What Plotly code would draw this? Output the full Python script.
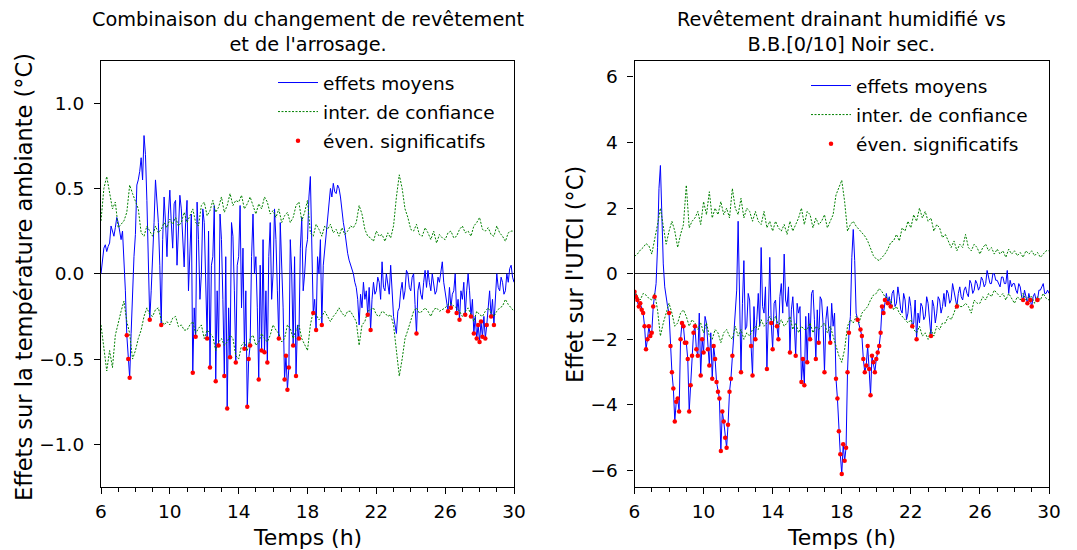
import plotly.graph_objects as go

# ---------------- data ----------------
# mean effects: 5-minute steps from 6 h to 30 h ; confidence bounds: 10-minute steps
time_mean = [6 + i / 12 for i in range(289)]
time_ci = [6 + i / 6 for i in range(145)]

# Left panel : effect on ambient temperature (°C)
left_mean = [
    0.00, 0.08, 0.15, 0.17, 0.13, 0.16, 0.18, 0.28, 0.25, 0.22, 0.27, 0.33,
    0.30, 0.24, 0.20, 0.25, 0.10, -0.10, -0.36, -0.50, -0.61, -0.35, -0.05, 0.10,
    0.23, 0.52, 0.55, 0.60, 0.68, 0.55, 0.81, 0.70, 0.43, 0.11, -0.27, -0.10,
    0.07, 0.30, 0.55, 0.40, 0.30, 0.05, -0.30, 0.20, 0.45, 0.30, 0.10, 0.35,
    0.49, 0.30, 0.15, 0.41, 0.43, 0.05, 0.22, 0.46, 0.38, 0.15, 0.04, 0.30,
    0.43, -0.10, 0.12, 0.35, -0.58, -0.20, -0.37, 0.42, 0.20, -0.15, 0.00, 0.38,
    0.30, -0.10, -0.38, 0.25, -0.55, 0.05, 0.10, 0.40, -0.63, -0.10, -0.42, 0.35,
    0.20, -0.15, -0.60, 0.10, -0.79, -0.20, -0.49, 0.30, 0.22, -0.10, -0.52, 0.05,
    0.10, 0.40, -0.20, 0.15, -0.44, -0.10, -0.78, -0.50, -0.42, 0.10, 0.35, 0.00,
    0.10, -0.20, -0.62, 0.05, -0.45, 0.20, -0.46, -0.10, -0.52, 0.10, 0.30, -0.15,
    0.00, 0.38, 0.20, -0.10, -0.38, 0.30, 0.05, -0.20, -0.62, -0.48, -0.68, -0.55,
    0.20, 0.00, -0.42, 0.10, -0.60, -0.30, -0.38, 0.15, 0.33, -0.10, 0.00, 0.15,
    0.20, 0.45, 0.57, 0.10, -0.23, -0.15, -0.33, 0.10, 0.00, 0.20, -0.30, 0.05,
    0.15, 0.25, 0.35, 0.42, 0.50, 0.45, 0.53, 0.48, 0.47, 0.52, 0.50, 0.45,
    0.36, 0.30, 0.25, 0.18, 0.12, 0.08, 0.05, 0.02, 0.00, -0.05, -0.08, -0.15,
    -0.30, -0.12, -0.20, -0.05, -0.15, -0.10, -0.24, -0.08, -0.33, -0.15, -0.05, -0.12,
    -0.10, -0.02, -0.05, -0.15, 0.07, -0.08, -0.10, 0.00, -0.05, -0.12, 0.05, -0.10,
    -0.25, -0.30, -0.35, -0.22, -0.20, -0.10, -0.05, -0.15, -0.10, 0.02, 0.00, -0.08,
    -0.10, -0.02, 0.00, -0.18, -0.35, -0.10, -0.05, -0.12, -0.15, -0.05, 0.02, -0.08,
    0.02, -0.05, -0.10, 0.00, -0.05, -0.12, -0.10, -0.02, -0.05, 0.00, 0.07, -0.05,
    -0.10, -0.15, -0.22, -0.08, -0.20, -0.12, -0.10, 0.00, -0.23, -0.15, -0.27, -0.10,
    -0.15, -0.05, -0.24, -0.10, 0.00, -0.10, -0.25, -0.15, -0.35, -0.25, -0.38, -0.30,
    -0.40, -0.28, -0.37, -0.25, -0.38, -0.30, -0.20, -0.10, -0.25, -0.15, -0.30, -0.12,
    0.00, -0.08, -0.10, -0.02, -0.05, -0.12, -0.10, 0.00, -0.05, 0.03, 0.05, -0.02,
    -0.05,
]
left_upper = [
    0.31, 0.50, 0.57, 0.48, 0.38, 0.42,
    0.27, 0.29, 0.31, 0.36, 0.52, 0.47,
    0.43, 0.38, 0.24, 0.22, 0.28, 0.25,
    0.22, 0.28, 0.24, 0.26, 0.30, 0.27,
    0.32, 0.29, 0.33, 0.28, 0.30, 0.36,
    0.30, 0.34, 0.38, 0.30, 0.28, 0.40,
    0.42, 0.34, 0.37, 0.43, 0.36, 0.39,
    0.45, 0.36, 0.40, 0.47, 0.40, 0.43,
    0.42, 0.46, 0.38, 0.41, 0.45, 0.40,
    0.35, 0.41, 0.38, 0.45, 0.42, 0.35,
    0.37, 0.33, 0.38, 0.30, 0.34, 0.36,
    0.30, 0.33, 0.40, 0.42, 0.31, 0.36,
    0.43, 0.24, 0.22, 0.29, 0.26, 0.22,
    0.28, 0.26, 0.29, 0.24, 0.26, 0.22,
    0.27, 0.23, 0.25, 0.28, 0.27, 0.30,
    0.40, 0.35, 0.26, 0.22, 0.21, 0.19,
    0.25, 0.22, 0.23, 0.19, 0.24, 0.21,
    0.28, 0.45, 0.58, 0.50, 0.38, 0.33,
    0.26, 0.25, 0.29, 0.23, 0.22, 0.27,
    0.24, 0.20, 0.25, 0.18, 0.23, 0.21,
    0.20, 0.24, 0.25, 0.21, 0.22, 0.26,
    0.28, 0.24, 0.25, 0.22, 0.28, 0.30,
    0.33, 0.26, 0.25, 0.27, 0.23, 0.22,
    0.28, 0.24, 0.22, 0.19, 0.24, 0.25,
    0.25,
]
left_lower = [
    -0.30, -0.45, -0.57, -0.45, -0.55, -0.36,
    -0.28, -0.22, -0.16, -0.28, -0.35, -0.50,
    -0.45, -0.38, -0.33, -0.25, -0.20, -0.24,
    -0.25, -0.21, -0.20, -0.27, -0.30, -0.28,
    -0.30, -0.26, -0.25, -0.31, -0.30, -0.33,
    -0.33, -0.30, -0.28, -0.35, -0.32, -0.30,
    -0.38, -0.33, -0.35, -0.37, -0.45, -0.40,
    -0.38, -0.42, -0.40, -0.36, -0.38, -0.48,
    -0.50, -0.42, -0.40, -0.45, -0.38, -0.36,
    -0.42, -0.40, -0.35, -0.38, -0.40, -0.36,
    -0.30, -0.33, -0.35, -0.40, -0.38, -0.30,
    -0.32, -0.38, -0.33, -0.30, -0.38, -0.42,
    -0.45, -0.30, -0.22, -0.24, -0.27, -0.25,
    -0.22, -0.25, -0.28, -0.25, -0.23, -0.20,
    -0.23, -0.25, -0.22, -0.22, -0.25, -0.28,
    -0.42, -0.30, -0.28, -0.22, -0.21, -0.20,
    -0.24, -0.25, -0.22, -0.23, -0.25, -0.24,
    -0.30, -0.45, -0.60, -0.50, -0.38, -0.33,
    -0.28, -0.22, -0.20, -0.23, -0.22, -0.20,
    -0.22, -0.25, -0.21, -0.20, -0.22, -0.21,
    -0.20, -0.18, -0.17, -0.19, -0.20, -0.22,
    -0.25, -0.22, -0.20, -0.24, -0.28, -0.22,
    -0.24, -0.25, -0.22, -0.20, -0.23, -0.25,
    -0.22, -0.20, -0.19, -0.15, -0.18, -0.20,
    -0.22,
]

# Right panel : effect on UTCI (°C)
right_mean = [
    -0.55, -0.70, -0.80, -1.00, -0.90, -1.10, -1.20, -1.60, -2.30, -2.00, -1.60, -1.90,
    -1.80, -1.00, -0.70, -0.30, 0.80, 2.60, 3.30, 1.50, 0.30, -0.40, -0.80, -1.00,
    -1.20, -2.20, -3.00, -3.50, -4.50, -3.90, -3.80, -4.20, -2.00, -1.50, -1.60, -2.10,
    -2.10, -2.60, -4.20, -3.40, -2.50, -1.80, -1.60, -2.30, -2.50, -1.20, -3.10, -2.00,
    -2.40, -1.30, -1.50, -2.30, -2.80, -1.80, -3.20, -2.20, -2.60, -3.30, -3.60, -3.80,
    -5.40, -4.20, -4.50, -5.00, -5.30, -4.60, -3.60, -3.20, -2.50, -2.00, -1.00, -0.50,
    1.60, -1.20, -3.00, -0.90, 0.40, -1.70, -1.60, -0.60, -0.80, -2.20, -3.10, -1.00,
    -2.00, -1.40, -0.60, -1.60, 0.80, -1.00, -1.20, -0.40, -2.90, -1.30, 0.50, -1.50,
    -2.30, -0.90, -0.80, -1.60, -2.00, -0.70, -0.30, -1.20, 0.60, -0.80, -1.00, -0.40,
    -2.40, -1.10, -0.70, -1.50, -2.50, -0.90, -1.20, -1.00, -3.30, -2.60, -3.40, -1.30,
    -2.70, -1.20, -2.00, -0.60, -0.50, -1.40, -2.60, -1.10, -2.10, -0.70, -0.80, -1.50,
    -3.00, -1.40, -1.00, -1.70, -2.10, -0.90, -1.60, -1.20, -3.20, -3.80, -4.80, -5.50,
    -6.10, -5.20, -5.70, -5.30, -3.00, -1.80, -1.30, 0.50, 1.35, 0.40, -1.20, -1.40,
    -1.50, -1.70, -1.90, -2.60, -3.00, -2.80, -2.20, -2.90, -3.70, -2.50, -2.70, -3.00,
    -2.60, -2.40, -2.20, -1.80, -1.00, -1.20, -0.80, -0.60, -0.90, -0.70, -1.00, -0.60,
    -0.50, -1.00, -0.90, -0.40, -0.70, -1.10, -1.20, -0.60, -0.80, -1.40, -1.20, -0.70,
    -1.00, -1.60, -1.50, -0.80, -2.00, -1.20, -1.50, -0.90, -1.00, -1.40, -1.30, -0.70,
    -0.90, -1.40, -1.90, -0.80, -1.00, -1.50, -1.20, -0.70, -0.80, -1.20, -1.00, -0.60,
    -1.00, -0.50, -0.60, -0.90, -0.80, -0.30, -0.50, -0.80, -1.00, -0.60, -0.40, -0.70,
    -0.80, -0.50, -0.40, -0.60, -0.70, -0.20, -0.30, -0.60, -0.50, -0.20, -0.30, -0.50,
    -0.40, -0.10, -0.20, -0.40, -0.30, 0.10, -0.10, -0.30, -0.30, 0.00, 0.00, -0.20,
    -0.20, -0.30, -0.40, -0.10, -0.10, -0.30, -0.30, 0.10, -0.60, -0.20, -0.40, -0.30,
    -0.30, -0.50, -0.60, -0.30, -0.40, -0.70, -0.80, -0.50, -0.70, -0.90, -0.60, -0.80,
    -1.00, -0.70, -0.60, -0.80, -0.80, -0.50, -0.50, -0.40, -0.30, -0.60, -0.60, -0.50,
    -0.60,
]
right_upper = [
    0.53, 0.60, 0.72, 0.80, 0.92, 0.85,
    0.60, 1.00, 1.50, 2.00, 1.50, 0.90,
    1.30, 1.60, 1.30, 0.80, 1.20, 1.50,
    2.70, 1.40, 1.60, 1.70, 1.90, 1.50,
    2.20, 1.80, 2.50, 1.70, 2.00, 1.80,
    2.20, 1.80, 2.00, 1.70, 2.60, 2.00,
    1.80, 2.30, 1.70, 2.00, 1.90, 1.60,
    1.90, 1.60, 1.50, 1.90, 1.40, 1.60,
    1.30, 1.60, 1.40, 1.30, 1.50, 1.20,
    1.60, 1.30, 1.50, 1.70, 2.00, 1.50,
    1.90, 1.80, 1.40, 1.70, 1.50, 1.60,
    1.80, 1.40, 1.60, 1.80, 2.40, 2.60,
    2.85, 2.20, 1.30, 1.50, 1.60, 1.45,
    1.35, 1.25, 1.15, 1.00, 0.75, 0.55,
    0.45, 0.40, 0.50, 0.60, 0.75, 0.95,
    1.00, 1.20, 1.00, 1.40, 1.30, 1.60,
    1.40, 1.80, 1.60, 2.00, 1.70, 1.90,
    1.60, 1.70, 1.30, 1.50, 1.40, 1.10,
    1.20, 1.00, 0.80, 1.00, 0.70, 0.90,
    0.80, 1.20, 0.80, 0.70, 0.90, 0.80,
    0.60, 0.80, 0.90, 0.70, 0.80, 0.60,
    0.75, 0.60, 0.70, 0.50, 0.75, 0.60,
    0.70, 0.55, 0.65, 0.50, 0.70, 0.60,
    0.70, 0.55, 0.65, 0.50, 0.60, 0.70,
    0.70,
]
right_lower = [
    -0.50, -0.70, -0.80, -0.60, -0.65, -0.75,
    -0.80, -0.60, -1.10, -1.90, -1.50, -1.20,
    -0.90, -1.20, -1.60, -1.50, -1.20, -1.10,
    -1.30, -1.60, -1.40, -1.50, -1.70, -1.50,
    -1.80, -1.50, -1.90, -2.00, -1.70, -1.80,
    -2.10, -1.80, -1.70, -1.90, -2.00, -1.60,
    -1.90, -1.70, -2.00, -1.80, -1.90, -1.70,
    -1.60, -1.70, -1.40, -1.60, -1.50, -1.30,
    -1.50, -1.30, -1.60, -1.40, -1.60, -1.50,
    -1.30, -1.70, -1.50, -1.80, -1.60, -1.70,
    -1.70, -1.50, -1.80, -1.60, -1.70, -1.60,
    -1.50, -1.80, -1.60, -1.90, -2.20, -2.50,
    -2.70, -2.30, -1.60, -1.40, -1.50, -1.30,
    -1.50, -1.20, -1.10, -1.00, -0.80, -0.65,
    -0.60, -0.45, -0.55, -0.70, -0.75, -0.80,
    -1.10, -1.00, -1.20, -1.30, -1.40, -1.50,
    -1.40, -1.70, -1.80, -1.60, -1.90, -1.80,
    -2.00, -1.70, -1.90, -1.60, -1.70, -1.50,
    -1.50, -1.30, -1.40, -1.20, -0.90, -1.00,
    -1.00, -0.90, -1.00, -1.20, -0.80, -0.90,
    -0.90, -0.70, -0.80, -0.60, -0.70, -0.50,
    -0.60, -0.70, -0.60, -0.80, -0.60, -0.75,
    -0.90, -0.70, -0.80, -0.60, -0.80, -0.70,
    -0.70, -0.90, -0.70, -0.80, -0.60, -0.75,
    -0.80,
]

x_ticks = [6, 10, 14, 18, 22, 26, 30]
left_yticks = [-1.0, -0.5, 0.0, 0.5, 1.0]
left_yticktext = ["\u22121.0", "\u22120.5", "0.0", "0.5", "1.0"]
right_yticks = [-6, -4, -2, 0, 2, 4, 6]
right_yticktext = ["\u22126", "\u22124", "\u22122", "0", "2", "4", "6"]

legend_names = ["effets moyens", "inter. de confiance", "éven. significatifs"]
titles = ["Combinaison du changement de revêtement<br>et de l'arrosage.",
          "Revêtement drainant humidifié vs<br>B.B.[0/10] Noir sec."]
ytitles = ["Effets sur la température ambiante (°C)", "Effet sur l'UTCI (°C)"]
xtitle = "Temps (h)"

# ---------------- figure ----------------
W, H = 1077, 550
FONT = "DejaVu Sans"
BLUE, GREEN, RED = "#0000ff", "#008000", "#ff0000"

fig = go.Figure()

panels = [
    (left_mean, left_upper, left_lower, "x", "y", "legend"),
    (right_mean, right_upper, right_lower, "x2", "y2", "legend2"),
]
for p, (mean, up, lo, xa, ya, lg) in enumerate(panels):
    fig.add_trace(go.Scatter(x=time_mean, y=mean, mode="lines", name=legend_names[0],
                             line=dict(color=BLUE, width=1), xaxis=xa, yaxis=ya,
                             legend=lg, legendgroup=f"g{p}a"))
    fig.add_trace(go.Scatter(x=time_ci, y=up, mode="lines", name=legend_names[1],
                             line=dict(color=GREEN, width=1, dash="2px,1.5px"), xaxis=xa, yaxis=ya,
                             legend=lg, legendgroup=f"g{p}b"))
    fig.add_trace(go.Scatter(x=time_ci, y=lo, mode="lines", name=legend_names[1],
                             line=dict(color=GREEN, width=1, dash="2px,1.5px"), xaxis=xa, yaxis=ya,
                             legend=lg, legendgroup=f"g{p}b", showlegend=False))
    # significant events: mean effect below the lower confidence bound
    sx, sy = [], []
    for i, (t, m) in enumerate(zip(time_mean, mean)):
        if m < lo[i // 2]:
            sx.append(t)
            sy.append(m)
    fig.add_trace(go.Scatter(x=sx, y=sy, mode="markers", name=legend_names[2],
                             marker=dict(color=RED, size=4.5), xaxis=xa, yaxis=ya,
                             legend=lg, legendgroup=f"g{p}c"))

def px_x(v):
    return v / W

def px_y(v):
    return 1 - v / H

ydom = [px_y(487), px_y(60.5)]
xdoms = [[px_x(101), px_x(514)], [px_x(634.5), px_x(1049)]]

common_x = dict(range=[6, 30], tickvals=x_ticks, ticks="outside", ticklen=6, tickwidth=1.2,
                tickcolor="black", showline=True, mirror=True, linecolor="black", linewidth=1.2,
                showgrid=False, zeroline=False, tickfont=dict(size=18.5, color="black"),
                automargin=False, ticklabelstandoff=2,
                minor=dict(dtick=1, tick0=6, ticks="outside", ticklen=3.5, tickwidth=1,
                           tickcolor="black", showgrid=False))
common_y = dict(ticks="outside", ticklen=6, tickwidth=1.2, tickcolor="black",
                showline=True, mirror=True, linecolor="black", linewidth=1.2,
                showgrid=False, zeroline=True, zerolinecolor="#222222", zerolinewidth=1,
                tickfont=dict(size=18.5, color="black"), automargin=False,
                ticklabelstandoff=6)

fig.update_layout(
    width=W, height=H,
    margin=dict(l=0, r=0, t=0, b=0),
    paper_bgcolor="white", plot_bgcolor="white",
    font=dict(family=FONT, color="black"),
    xaxis=dict(domain=xdoms[0], anchor="y", **common_x),
    xaxis2=dict(domain=xdoms[1], anchor="y2", **common_x),
    yaxis=dict(domain=ydom, anchor="x", range=[-1.25, 1.25], tickvals=left_yticks,
               ticktext=left_yticktext, **common_y),
    yaxis2=dict(domain=ydom, anchor="x2", range=[-6.5, 6.5], tickvals=right_yticks,
                ticktext=right_yticktext, **common_y),
    legend=dict(x=px_x(273), y=px_y(64), xanchor="left", yanchor="top",
                bgcolor="rgba(0,0,0,0)", font=dict(size=18.5), itemwidth=40,
                traceorder="grouped", tracegroupgap=2),
    legend2=dict(x=px_x(806), y=px_y(67), xanchor="left", yanchor="top",
                 bgcolor="rgba(0,0,0,0)", font=dict(size=18.5), itemwidth=40,
                 traceorder="grouped", tracegroupgap=2),
    showlegend=True,
)

annotations = []
centers = [(101 + 514) / 2, (634.5 + 1049) / 2]
for i in range(2):
    annotations.append(dict(text=titles[i], x=px_x(centers[i]), y=px_y(58), xref="paper",
                            yref="paper", xanchor="center", yanchor="bottom", showarrow=False,
                            font=dict(size=19.3, color="black")))
    annotations.append(dict(text=xtitle, x=px_x(centers[i]), y=px_y(537), xref="paper",
                            yref="paper", xanchor="center", yanchor="middle", showarrow=False,
                            font=dict(size=22, color="black")))
annotations.append(dict(text=ytitles[0], x=px_x(24), y=px_y(277), xref="paper", yref="paper",
                        xanchor="center", yanchor="middle", textangle=-90, showarrow=False,
                        font=dict(size=22.5, color="black")))
annotations.append(dict(text=ytitles[1], x=px_x(575), y=px_y(275), xref="paper", yref="paper",
                        xanchor="center", yanchor="middle", textangle=-90, showarrow=False,
                        font=dict(size=22.5, color="black")))
fig.update_layout(annotations=annotations)

fig.write_html("out.html", config={"displayModeBar": False},
               post_script="document.body.style.margin='0px';document.body.style.padding='0px';")
